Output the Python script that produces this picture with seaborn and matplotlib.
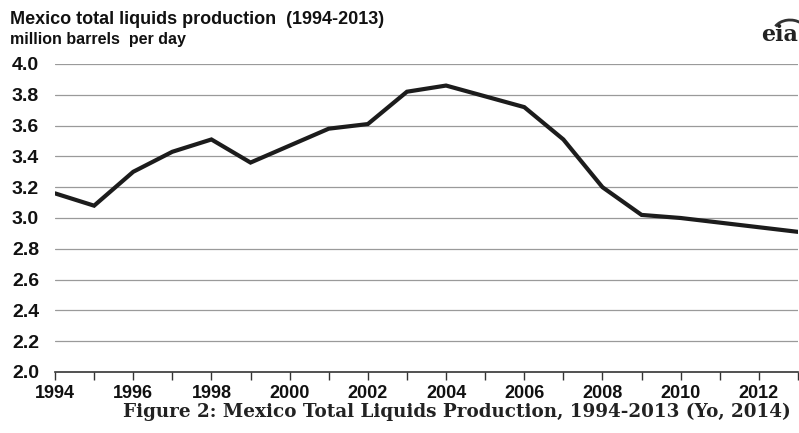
import matplotlib
matplotlib.use("Agg")
import matplotlib.pyplot as plt
import seaborn as sns
import pandas as pd
from matplotlib.ticker import MultipleLocator
from matplotlib.patches import Arc

# Mexico total liquids production, million barrels per day
years = [1994, 1995, 1996, 1997, 1998, 1999, 2000, 2001, 2002, 2003,
         2004, 2005, 2006, 2007, 2008, 2009, 2010, 2011, 2012, 2013]
production = [3.16, 3.08, 3.30, 3.43, 3.51, 3.36, 3.47, 3.58, 3.61, 3.82,
              3.86, 3.79, 3.72, 3.51, 3.20, 3.02, 3.00, 2.97, 2.94, 2.91]
y_ticks = [2.0, 2.2, 2.4, 2.6, 2.8, 3.0, 3.2, 3.4, 3.6, 3.8, 4.0]
x_ticks = [1994, 1996, 1998, 2000, 2002, 2004, 2006, 2008, 2010, 2012]

df = pd.DataFrame({"year": years, "production": production})

sns.set_theme(style="white")
plt.rcParams["font.family"] = ["Liberation Sans", "DejaVu Sans"]

fig = plt.figure(figsize=(7.99, 4.33), dpi=100)
ax = fig.add_axes([55 / 799, 1 - 372 / 433, 1 - 56 / 799, (372 - 64) / 433])

sns.lineplot(data=df, x="year", y="production", ax=ax, color="#1c1c1c",
             linewidth=3.0, solid_joinstyle="miter", zorder=3)

ax.set_xlim(1994, 2013)
ax.set_ylim(2.0, 4.0)
ax.set_yticks(y_ticks)
ax.set_yticklabels([f"{v:.1f}" for v in y_ticks])
ax.set_xticks(x_ticks)
ax.set_xticklabels([str(v) for v in x_ticks])
ax.xaxis.set_minor_locator(MultipleLocator(1))
ax.set_xlabel("")
ax.set_ylabel("")

for v in y_ticks[1:]:
    ax.axhline(v, color="#9a9a9a", linewidth=0.9, zorder=1)

for side in ["left", "right", "top"]:
    ax.spines[side].set_visible(False)
ax.spines["bottom"].set_color("#333333")
ax.spines["bottom"].set_linewidth(1.2)

ax.tick_params(axis="y", length=0, pad=11.5, labelsize=14, labelcolor="#111111")
ax.tick_params(axis="x", which="both", direction="out", bottom=True,
               color="#333333", labelsize=13, labelcolor="#111111", pad=3)
ax.tick_params(axis="x", which="major", length=6, width=1.0)
ax.tick_params(axis="x", which="minor", length=6, width=1.0)
for lbl in ax.get_xticklabels() + ax.get_yticklabels():
    lbl.set_fontweight("bold")

fig.text(10 / 799, 1 - 11 / 433, "Mexico total liquids production  (1994-2013)",
         fontsize=13, fontweight="heavy", ha="left", va="top", color="#111111")
fig.text(10 / 799, 1 - 32 / 433, "million barrels  per day",
         fontsize=11.5, fontweight="bold", ha="left", va="top", color="#111111")

# agency mark in the top right corner
fig.text(798 / 799, 1 - 24 / 433, "eia", fontsize=16, fontweight="bold",
         family="DejaVu Serif", ha="right", va="top", color="#222222")
fig.patches.append(Arc((790 / 799, 1 - 33 / 433), 34 / 799, 26 / 433,
                       theta1=60, theta2=140, transform=fig.transFigure,
                       color="#333333", linewidth=2.0))

fig.text(457 / 799, 1 - 412 / 433,
         "Figure 2: Mexico Total Liquids Production, 1994-2013 (Yo, 2014)",
         fontsize=13.2, fontweight="bold", family="DejaVu Serif",
         ha="center", va="center", color="#222222")

fig.savefig("out.png", dpi=100, facecolor="white")
